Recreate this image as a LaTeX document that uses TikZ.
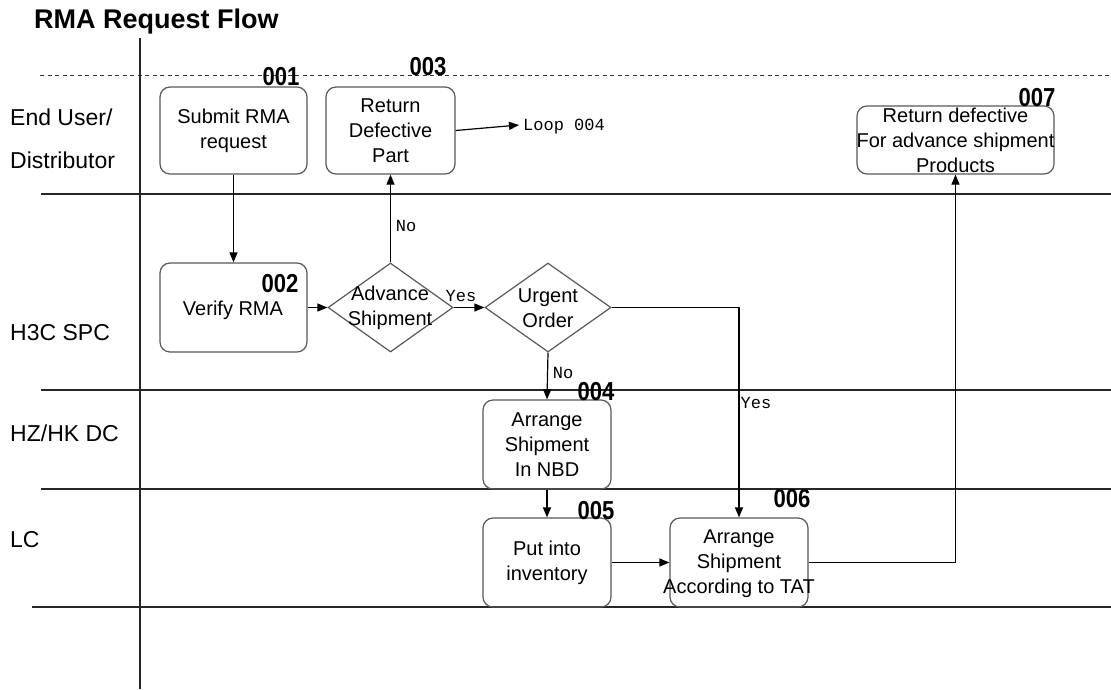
\documentclass[tikz,border=0pt]{standalone}
\usepackage{fontspec}
\setmainfont{Liberation Sans}
\newfontfamily\monof{Liberation Mono}
\usetikzlibrary{arrows.meta,shapes.geometric}
\begin{document}
\begin{tikzpicture}[x=1pt,y=-1pt,
  lane/.style={line width=1.2pt, black!85},
  box/.style={draw=black!65, line width=1.2pt, rounded corners=10pt, inner sep=0pt},
  dia/.style={draw=black!65, line width=1.2pt, diamond, inner sep=0pt},
  btxt/.style={align=center, font=\fontsize{20}{25}\selectfont, inner sep=0pt},
  lanelbl/.style={anchor=west, font=\fontsize{23}{27}\selectfont, inner sep=0pt},
  num/.style={font=\fontsize{26}{28}\selectfont\bfseries, inner sep=0pt},
  cond/.style={font=\monof\fontsize{17}{19}\selectfont, inner sep=0pt},
  conn/.style={line width=1.2pt, black},
  arr/.style={conn, -{Triangle[length=10pt,width=8pt]}}
]
\useasboundingbox (0,0) rectangle (1111,689);
\fill[white] (0,0) rectangle (1111,689);

% title
\node[anchor=west, inner sep=0pt, font=\fontsize{27}{30}\selectfont\bfseries] (title) at (34,22) {RMA Request Flow};

% lanes
\draw[line width=1pt, black!80, dash pattern=on 4pt off 3.5pt] (40,75) -- (1111,75);
\foreach \yy in {194,390,489} \draw[lane] (41,\yy) -- (1111,\yy);
\draw[lane] (32,607) -- (1111,607);
\draw[lane] (140,38) -- (140,689);

\node[lanelbl] (l1a) at (10,117) {End User/};
\node[lanelbl] (l1b) at (10,160) {Distributor};
\node[lanelbl] (l2) at (10,333) {H3C SPC};
\node[lanelbl] (l3) at (10,433) {HZ/HK DC};
\node[lanelbl] (l4) at (10,540) {LC};

% boxes
\node[box, minimum width=147pt, minimum height=87pt] (b1) at (233.5,130.5) {};
\node[btxt] at (b1) {Submit RMA\\request};
\node[box, minimum width=129pt, minimum height=87pt] (b3) at (390.5,130.5) {};
\node[btxt] at (b3) {Return\\Defective\\Part};
\node[box, minimum width=197pt, minimum height=68pt] (b7) at (955.5,140) {};
\node[btxt] at (b7) {Return defective\\For advance shipment\\Products};
\node[box, minimum width=147pt, minimum height=89pt] (b2) at (233.5,307.5) {};
\node[btxt] at (233,310) {Verify RMA};
\node[dia, minimum width=125pt, minimum height=89pt] (adv) at (390.5,307.5) {};
\node[btxt] at (390,308) {Advance\\Shipment};
\node[dia, minimum width=126pt, minimum height=89pt] (urg) at (548,307.5) {};
\node[btxt] at (548,308) {Urgent\\Order};
\node[box, minimum width=128pt, minimum height=89pt] (b4) at (547,444.5) {};
\node[btxt] at (b4) {Arrange\\Shipment\\In NBD};
\node[box, minimum width=128pt, minimum height=89pt] (b5) at (547,562.5) {};
\node[btxt] at (b5) {Put into\\inventory};
\node[box, minimum width=138pt, minimum height=89pt] (b6) at (739,562.5) {};
\node[btxt] at (739,564) {Arrange\\Shipment\\According to TAT};

% numbers
\node[num] (n1) at (281,77) {\scalebox{0.85}[1]{001}};
\node[num] (n3) at (428,67) {\scalebox{0.85}[1]{003}};
\node[num] (n2) at (280,284) {\scalebox{0.85}[1]{002}};
\node[num] (n4) at (596,392) {\scalebox{0.85}[1]{004}};
\node[num] (n5) at (596,511) {\scalebox{0.85}[1]{005}};
\node[num] (n6) at (792,499) {\scalebox{0.85}[1]{006}};
\node[num] (n7) at (1037,98) {\scalebox{0.85}[1]{007}};

% loop
\node[cond, anchor=west] (loop) at (523,127) {Loop 004};
\coordinate (la) at (519,125);
\draw[arr] (b3.east) -- (la);

% connectors
\draw[arr] (b1.south) -- (b2.north);
\draw[arr] (b2.east) -- (adv.west);
\draw[arr] (adv.north) -- (b3.south);
\draw[arr] (adv.east) -- (urg.west);
\draw[arr] (urg.south) -- (b4.north);
\draw[arr] (b4.south) -- (b5.north);
\draw[arr] (urg.east) -| (b6.north);
\draw[arr] (b5.east) -- (b6.west);
\draw[arr] (b6.east) -| (b7.south);

% condition labels
\node[cond] (no1) at (406,226) {No};
\node[cond] (yes1) at (461,296) {Yes};
\node[cond] (no2) at (563,373) {No};
\node[cond] (yes2) at (756,403) {Yes};
\end{tikzpicture}
\end{document}
